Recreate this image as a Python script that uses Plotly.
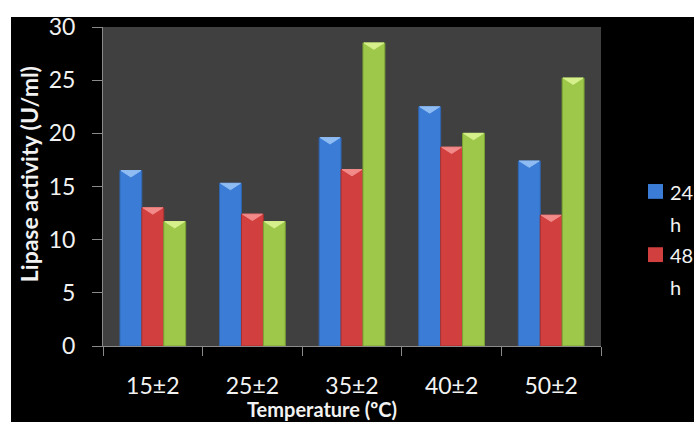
import plotly.graph_objects as go

# Lipase activity (U/ml) at each incubation temperature, sampled at three times
temperatures = ["15±2", "25±2", "35±2", "40±2", "50±2"]
activity_24h = [16.5, 15.3, 19.6, 22.5, 17.4]
activity_48h = [13.0, 12.4, 16.6, 18.7, 12.3]
activity_72h = [11.7, 11.7, 28.5, 20.0, 25.2]

series = [
    ("24 h", activity_24h, "#3b7dd6", "#2f65b0", "#8fbcf2"),
    ("48 h", activity_48h, "#d23f3f", "#a83030", "#f28a8a"),
    ("72 h", activity_72h, "#9dc84a", "#7aa334", "#d6f08c"),
]

BARGAP = 0.34
N = len(series)
bar_w = (1 - BARGAP) / N
CAP_DEPTH = 0.6  # depth of the bevelled top of each bar, in U/ml

# plot-area pixel frame (used for paper-coordinate placement of labels)
W, H = 694, 422
L, R, T, B = 103, 601, 23, 346
def px(x):
    return (x - L) / (R - L)
def py(y):
    return (B - y) / (B - T)

fig = go.Figure()

for i, (name, vals, col, edge, cap) in enumerate(series):
    fig.add_trace(go.Bar(
        x=temperatures, y=vals, name=name,
        marker=dict(color=col, line=dict(color=edge, width=1)),
        showlegend=False,
    ))

# bevelled caps on top of each bar, on an overlaid linear axis
for i, (name, vals, col, edge, cap) in enumerate(series):
    off = -(1 - BARGAP) / 2 + (i + 0.5) * bar_w
    xs, ys = [], []
    for j, v in enumerate(vals):
        xc = j + off
        xs += [xc - bar_w / 2 + 0.01, xc + bar_w / 2 - 0.01, xc, xc - bar_w / 2 + 0.01, None]
        ys += [v, v, v - CAP_DEPTH, v, None]
    fig.add_trace(go.Scatter(
        x=xs, y=ys, xaxis="x2", mode="lines", fill="toself",
        fillcolor=cap, line=dict(color=cap, width=1),
        hoverinfo="skip", showlegend=False,
    ))

axis_grey = "#8a8a8a"
txt = "#f2f2f2"
FONT = "Lato"

fig.update_layout(
    width=W, height=H,
    margin=dict(l=L, r=W - R, t=T, b=H - B),
    paper_bgcolor="black",
    plot_bgcolor="#404040",
    barmode="group",
    bargap=BARGAP,
    bargroupgap=0,
    font=dict(family=FONT, color=txt),
    xaxis=dict(
        type="category", tickson="boundaries", ticks="outside", ticklen=9,
        tickcolor=axis_grey, showline=True, linecolor=axis_grey, linewidth=1,
        showgrid=False, tickfont=dict(size=23, color=txt), ticklabelstandoff=19,
        range=[-0.5, 4.5],
    ),
    xaxis2=dict(
        overlaying="x", range=[-0.5, 4.5], visible=False, showgrid=False,
        zeroline=False,
    ),
    yaxis=dict(
        range=[0, 30], dtick=5, ticks="outside", ticklen=10, tickcolor=axis_grey,
        showline=True, linecolor=axis_grey, linewidth=1, showgrid=False,
        zeroline=False, tickfont=dict(size=23, color=txt), ticklabelstandoff=12,
    ),
    showlegend=False,
)

# white border strips along the top and left edges
fig.add_shape(type="rect", xref="paper", yref="paper",
              x0=px(-5), x1=px(11), y0=py(H + 5), y1=py(-5),
              fillcolor="white", line_width=0, layer="above")
fig.add_shape(type="rect", xref="paper", yref="paper",
              x0=px(-5), x1=px(W + 5), y0=py(13), y1=py(-5),
              fillcolor="white", line_width=0, layer="above")

# axis titles
fig.add_annotation(text="<b>Temperature (ºC)</b>", xref="paper", yref="paper",
                   x=px(322), y=py(423), xanchor="center", yanchor="bottom",
                   borderpad=0, showarrow=False, font=dict(size=20, color=txt))
fig.add_annotation(text="<b>Lipase activity (U/ml)</b>", xref="paper", yref="paper",
                   x=px(29), y=py(172), xanchor="center", yanchor="middle",
                   textangle=-90, showarrow=False, font=dict(size=23, color=txt))

# legend key (first two sampling times; text runs past the right edge)
legend_rows = [("24", "h", series[0][2], 190), ("48", "h", series[1][2], 254)]
for num, unit, col, yc in legend_rows:
    fig.add_shape(type="rect", xref="paper", yref="paper",
                  x0=px(648), x1=px(663), y0=py(yc + 7), y1=py(yc - 8),
                  fillcolor=col, line=dict(color=col, width=0), layer="above")
    fig.add_annotation(text=num, xref="paper", yref="paper", x=px(668), y=py(yc),
                       xanchor="left", yanchor="middle", showarrow=False,
                       font=dict(size=20, color=txt))
    fig.add_annotation(text=unit, xref="paper", yref="paper", x=px(668), y=py(yc + 32),
                       xanchor="left", yanchor="middle", showarrow=False,
                       font=dict(size=20, color=txt))

fig.write_html("out.html")
